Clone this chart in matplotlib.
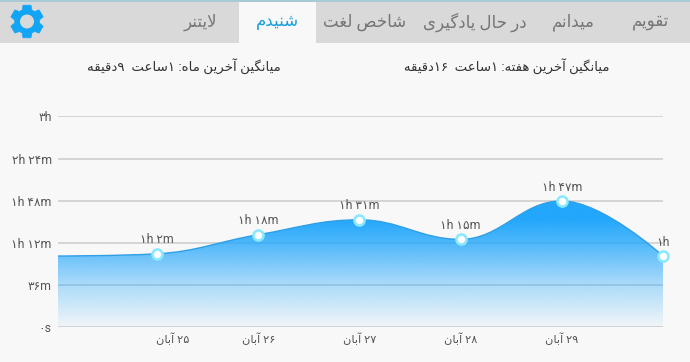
import numpy as np
from matplotlib import pyplot as plt
from matplotlib.patches import PathPatch, Polygon, Rectangle, Circle
from matplotlib.path import Path
from matplotlib.transforms import ScaledTranslation

plt.rcParams["font.family"] = ["Roboto", "DejaVu Sans"]

# values in minutes, first point sits just left of the axis and has no marker
minutes = [60.8, 62.7, 79, 91.7, 75, 107.8, 60.8]
point_labels = ["", "۱h ۲m", "۱h ۱۸m", "۱h ۳۱m", "۱h ۱۵m", "۱h ۴۷m", "۱h"]
date_labels = ["", "۲۵ آبان", "۲۶ آبان", "۲۷ آبان", "۲۸ آبان", "۲۹ آبان", ""]
y_ticks = [0, 36, 72, 108, 144, 180]
y_tick_labels = ["۰s", "۳۶m", "۱h ۱۲m", "۱h ۴۸m", "۲h ۲۴m", "۳h"]
tab_labels = ["تقویم", "میدانم", "در حال یادگیری", "شاخص لغت", "شنیدم", "لایتنر"]
tab_centers = [651, 573, 475, 365, 277, 200]
week_text = "میانگین آخرین هفته: ۱ساعت  ۱۶دقیقه"
month_text = "میانگین آخرین ماه: ۱ساعت  ۹دقیقه"

BLUE = "#22a7fc"
PAGE = "#f8f8f8"

# isolated, final, initial, medial code points
FORMS = {
    "ا": (0xFE8D, 0xFE8E), "آ": (0xFE81, 0xFE82), "د": (0xFEA9, 0xFEAA),
    "ر": (0xFEAD, 0xFEAE), "و": (0xFEED, 0xFEEE),
    "ب": (0xFE8F, 0xFE90, 0xFE91, 0xFE92), "ت": (0xFE95, 0xFE96, 0xFE97, 0xFE98),
    "ح": (0xFEA1, 0xFEA2, 0xFEA3, 0xFEA4), "خ": (0xFEA5, 0xFEA6, 0xFEA7, 0xFEA8),
    "س": (0xFEB1, 0xFEB2, 0xFEB3, 0xFEB4), "ش": (0xFEB5, 0xFEB6, 0xFEB7, 0xFEB8),
    "ص": (0xFEB9, 0xFEBA, 0xFEBB, 0xFEBC), "ع": (0xFEC9, 0xFECA, 0xFECB, 0xFECC),
    "غ": (0xFECD, 0xFECE, 0xFECF, 0xFED0), "ف": (0xFED1, 0xFED2, 0xFED3, 0xFED4),
    "ق": (0xFED5, 0xFED6, 0xFED7, 0xFED8), "ک": (0xFB8E, 0xFB8F, 0xFB90, 0xFB91),
    "گ": (0xFB92, 0xFB93, 0xFB94, 0xFB95), "ل": (0xFEDD, 0xFEDE, 0xFEDF, 0xFEE0),
    "م": (0xFEE1, 0xFEE2, 0xFEE3, 0xFEE4), "ن": (0xFEE5, 0xFEE6, 0xFEE7, 0xFEE8),
    "ه": (0xFEE9, 0xFEEA, 0xFEEB, 0xFEEC), "ی": (0xFBFC, 0xFBFD, 0xFBFE, 0xFBFF),
}
DIGITS = "۰۱۲۳۴۵۶۷۸۹"


def rtl(text):
    """matplotlib does no shaping: pick presentation forms and lay out in visual order."""
    out = []
    prev_joins = False
    i = 0
    while i < len(text):
        ch = text[i]
        if ch not in FORMS:
            out.append(ch)
            prev_joins = False
            i += 1
            continue
        # lam + alef ligature
        if ch == "ل" and text[i + 1 : i + 2] == "ا":
            out.append(chr(0xFEFC if prev_joins else 0xFEFB))
            prev_joins = False
            i += 2
            continue
        forms = FORMS[ch]
        next_ok = text[i + 1 : i + 2] in FORMS and len(forms) == 4
        if prev_joins:
            out.append(chr(forms[3] if next_ok else forms[1]))
        else:
            out.append(chr(forms[2] if next_ok else forms[0]))
        prev_joins = len(forms) == 4
        i += 1
    # reverse everything, but digit runs stay left to right
    runs = []
    for ch in out:
        if ch in DIGITS and runs and runs[-1][-1] in DIGITS:
            runs[-1] += ch
        else:
            runs.append(ch)
    return "".join(reversed(runs))


def spline_path(xs, ys):
    """Smooth curve through the points, flat at local extremes."""
    verts = [(xs[0], ys[0])]
    codes = [Path.MOVETO]
    right = (xs[0], ys[0])
    n = len(xs)
    for i in range(1, n):
        x, y = xs[i], ys[i]
        if i < n - 1:
            lx, ly = (1.5 * x + xs[i - 1]) / 2.5, (1.5 * y + ys[i - 1]) / 2.5
            rx, ry = (1.5 * x + xs[i + 1]) / 2.5, (1.5 * y + ys[i + 1]) / 2.5
            fix = (ry - ly) * (rx - x) / (rx - lx) + y - ry
            ly, ry = ly + fix, ry + fix
            if (ly > ys[i - 1] and ly > y) or (ly < ys[i - 1] and ly < y):
                ly = max(ys[i - 1], y) if ly > y else min(ys[i - 1], y)
                ry = 2 * y - ly
            elif (ry > ys[i + 1] and ry > y) or (ry < ys[i + 1] and ry < y):
                ry = max(ys[i + 1], y) if ry > y else min(ys[i + 1], y)
                ly = 2 * y - ry
        else:
            lx, ly, rx, ry = x, y, x, y
        verts += [right, (lx, ly), (x, y)]
        codes += [Path.CURVE4] * 3
        right = (rx, ry)
    return verts, codes


fig = plt.figure(figsize=(6.9, 3.62), dpi=100, facecolor=PAGE)

# tab bar and header, in pixel coordinates
bg = fig.add_axes([0, 0, 1, 1])
bg.set_xlim(0, 690)
bg.set_ylim(362, 0)
bg.axis("off")
bg.add_patch(Rectangle((0, 0), 690, 43, fc="#d9d9d9", ec="none"))
bg.add_patch(Rectangle((0, 0), 690, 2, fc="#a9c9d6", ec="none"))
bg.add_patch(Rectangle((239, 2), 77, 41, fc=PAGE, ec="none"))
for i, (label, cx) in enumerate(zip(tab_labels, tab_centers)):
    bg.text(cx, 22, rtl(label), ha="center", va="center", fontsize=12,
            color="#1a9fd8" if i == 4 else "#757575")
bg.text(506.5, 66, rtl(week_text), ha="center", va="center", fontsize=9.55, color="#333333")
bg.text(183.5, 66, rtl(month_text), ha="center", va="center", fontsize=9.65, color="#333333")

# gear icon
angles = []
radii = []
for k in range(6):
    mid = np.pi / 2 + k * np.pi / 3
    angles += [mid - 0.40, mid - 0.24, mid + 0.24, mid + 0.40]
    radii += [12.5, 16.8, 16.8, 12.5]
gear = np.column_stack([27 + np.array(radii) * np.cos(angles), 21.5 + np.array(radii) * np.sin(angles)])
bg.add_patch(Polygon(gear, closed=True, fc="#12a5f5", ec="#12a5f5", lw=0.5))
bg.add_patch(Circle((27, 21.5), 7, fc="#d9d9d9", ec="none"))

# chart
XMIN = 0.02
ax = fig.add_axes([58 / 690, 1 - 327.3 / 362, 605 / 690, 211 / 362])
ax.patch.set_alpha(0)
x = np.arange(len(minutes))
for side in ax.spines.values():
    side.set_visible(False)
ax.set_axisbelow(True)
ax.grid(axis="y", color="#cfcfcf", lw=1.2)
ax.set_yticks(y_ticks, y_tick_labels, fontsize=8.8, color="#555555")
ax.set_xticks(x, [rtl(d) for d in date_labels], fontsize=8.2, color="#555555")
ax.tick_params(length=0)
ax.tick_params(axis="y", pad=4.5)
ax.tick_params(axis="x", pad=3.5)
# first date label is pushed right in the original
first = ax.get_xticklabels()[1]
first.set_transform(first.get_transform() + ScaledTranslation(16 / 100, 0, fig.dpi_scale_trans))

verts, codes = spline_path(x, minutes)
line = Path(verts, codes)
outline = Path(verts + [(6, 0), (0, 0), (0, minutes[0]), (0, minutes[0])],
               codes + [Path.LINETO, Path.LINETO, Path.LINETO, Path.CLOSEPOLY])

gradient = np.zeros((256, 1, 4))
gradient[..., :3] = (0x22 / 255, 0xA7 / 255, 0xFC / 255)
gradient[..., 3] = np.interp(np.linspace(108, 0, 256), [0, 36, 72, 92, 108], [0.03, 0.36, 0.8, 1.0, 1.0])[:, None]
img = ax.imshow(gradient, extent=(0, 6, 0, 108), aspect="auto", zorder=2, interpolation="bilinear")
img.set_clip_path(PathPatch(outline, transform=ax.transData))
ax.set_xlim(XMIN, 6)
ax.set_ylim(0, 180)

ax.add_patch(PathPatch(line, fc="none", ec="#2f9fe6", lw=1.0, zorder=3))
ax.plot(x[1:], minutes[1:], ls="none", marker="o", ms=7.2, mfc="white", mec="#8ce8fb", mew=1.9,
        clip_on=False, zorder=4)
for xi, m, label in zip(x[1:], minutes[1:], point_labels[1:]):
    ax.annotate(label, (xi, m), xytext=(0, 10), textcoords="offset points", ha="center", va="center",
                fontsize=8.8, color="#555555", zorder=5, annotation_clip=False)

fig.savefig("out.png", dpi=100, facecolor=PAGE)
